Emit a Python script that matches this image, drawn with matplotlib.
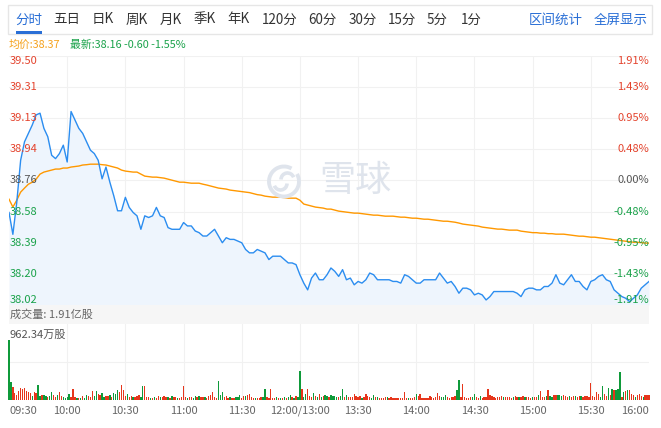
# 分时图 (intraday chart) redraw: price + average line on top, volume bars below
import numpy as np
import matplotlib.pyplot as plt
from matplotlib.patches import Rectangle, Arc

plt.rcParams['font.family'] = ['Noto Sans CJK SC', 'DejaVu Sans']

W, H = 661, 428

prev_close = 38.76

# price sampled every 2 minutes, 09:30 -> 12:00 | 13:00 -> 16:00 (330 trading minutes)
price = [
    38.57, 38.44, 38.63, 38.88, 38.99, 39.04, 39.09, 39.15, 39.16, 39.07,
    39.02, 38.91, 38.89, 38.92, 38.97, 38.87, 39.17, 39.12, 39.07, 39.04,
    38.99, 38.94, 38.92, 38.88, 38.77, 38.84, 38.75, 38.67, 38.58, 38.58,
    38.66, 38.60, 38.57, 38.55, 38.47, 38.55, 38.54, 38.55, 38.60, 38.55,
    38.54, 38.48, 38.47, 38.47, 38.47, 38.51, 38.49, 38.49, 38.46, 38.45,
    38.43, 38.43, 38.45, 38.47, 38.43, 38.39, 38.42, 38.41, 38.41, 38.40,
    38.39, 38.35, 38.33, 38.33, 38.35, 38.34, 38.33, 38.29, 38.31, 38.31,
    38.31, 38.29, 38.27, 38.27, 38.26, 38.20, 38.15, 38.11, 38.18, 38.21,
    38.17, 38.17, 38.20, 38.24, 38.22, 38.19, 38.23, 38.17, 38.18, 38.14,
    38.16, 38.15, 38.17, 38.21, 38.20, 38.17, 38.17, 38.17, 38.17, 38.16,
    38.16, 38.15, 38.20, 38.19, 38.17, 38.15, 38.15, 38.17, 38.17, 38.17,
    38.17, 38.21, 38.18, 38.15, 38.16, 38.13, 38.09, 38.12, 38.12, 38.11,
    38.08, 38.09, 38.08, 38.05, 38.07, 38.10, 38.10, 38.10, 38.10, 38.10,
    38.10, 38.09, 38.07, 38.11, 38.12, 38.12, 38.11, 38.11, 38.13, 38.13,
    38.15, 38.20, 38.15, 38.14, 38.17, 38.20, 38.16, 38.16, 38.13, 38.11,
    38.16, 38.17, 38.19, 38.20, 38.17, 38.16, 38.11, 38.09, 38.07, 38.06,
    38.04, 38.06, 38.08, 38.12, 38.14, 38.16,
]

avg_price = [
    38.649, 38.602, 38.643, 38.691, 38.715, 38.738, 38.750, 38.768, 38.798, 38.810,
    38.816, 38.822, 38.828, 38.828, 38.834, 38.834, 38.840, 38.843, 38.846, 38.852,
    38.854, 38.857, 38.857, 38.857, 38.854, 38.852, 38.846, 38.840, 38.834, 38.822,
    38.816, 38.813, 38.810, 38.810, 38.798, 38.786, 38.783, 38.780, 38.780, 38.777,
    38.774, 38.768, 38.762, 38.756, 38.750, 38.750, 38.747, 38.744, 38.744, 38.744,
    38.738, 38.733, 38.727, 38.721, 38.715, 38.712, 38.709, 38.703, 38.700, 38.697,
    38.694, 38.691, 38.688, 38.682, 38.676, 38.673, 38.667, 38.664, 38.661, 38.661,
    38.661, 38.658, 38.655, 38.655, 38.655, 38.643, 38.620, 38.614, 38.608, 38.602,
    38.599, 38.596, 38.590, 38.590, 38.584, 38.578, 38.575, 38.572, 38.569, 38.566,
    38.566, 38.563, 38.560, 38.557, 38.554, 38.554, 38.551, 38.548, 38.548, 38.548,
    38.545, 38.542, 38.542, 38.539, 38.536, 38.536, 38.533, 38.530, 38.530, 38.527,
    38.524, 38.521, 38.518, 38.518, 38.515, 38.512, 38.507, 38.501, 38.498, 38.495,
    38.492, 38.489, 38.483, 38.480, 38.477, 38.474, 38.471, 38.471, 38.468, 38.465,
    38.465, 38.465, 38.459, 38.456, 38.453, 38.450, 38.450, 38.447, 38.447, 38.444,
    38.444, 38.441, 38.441, 38.441, 38.438, 38.435, 38.432, 38.429, 38.429, 38.426,
    38.423, 38.423, 38.420, 38.417, 38.414, 38.411, 38.408, 38.405, 38.402, 38.399,
    38.396, 38.393, 38.393, 38.391, 38.388, 38.388,
]

# volume per minute, in 万股; 'R' = up minute, 'G' = down minute
volume = [
    962, 283, 214, 107, 80, 150, 187, 176, 187, 150,
    133, 107, 64, 123, 117, 240, 64, 75, 75, 59,
    48, 59, 128, 75, 43, 80, 128, 59, 43, 37,
    43, 96, 48, 176, 43, 37, 32, 37, 59, 32,
    80, 59, 48, 144, 64, 144, 96, 75, 112, 48,
    64, 59, 80, 48, 112, 96, 160, 123, 240, 160,
    64, 96, 48, 59, 48, 43, 59, 80, 48, 225,
    225, 43, 48, 32, 37, 48, 32, 59, 48, 43,
    59, 43, 48, 37, 59, 43, 48, 37, 32, 43,
    225, 48, 37, 43, 48, 37, 59, 43, 59, 48,
    43, 48, 37, 64, 80, 128, 43, 32, 305, 75,
    128, 43, 59, 37, 43, 32, 37, 43, 48, 80,
    32, 59, 64, 75, 96, 48, 32, 37, 32, 37,
    43, 48, 176, 43, 32, 176, 37, 32, 43, 32,
    37, 32, 43, 37, 48, 80, 43, 37, 64, 48,
    465, 176, 48, 96, 176, 64, 43, 112, 64, 48,
    96, 48, 64, 80, 59, 43, 80, 64, 59, 48,
    43, 59, 176, 43, 75, 43, 48, 48, 96, 64,
    43, 59, 37, 48, 96, 64, 48, 32, 75, 43,
    48, 32, 37, 37, 48, 43, 37, 43, 37, 37,
    37, 37, 37, 37, 128, 37, 37, 37, 37, 43,
    96, 59, 96, 32, 37, 37, 32, 59, 48, 37,
    43, 112, 64, 48, 43, 80, 43, 37, 48, 48,
    64, 160, 320, 43, 256, 43, 37, 37, 48, 48,
    96, 48, 37, 64, 37, 48, 43, 176, 80, 64,
    48, 37, 43, 48, 59, 43, 48, 43, 48, 37,
    48, 59, 48, 43, 43, 64, 48, 48, 43, 37,
    48, 48, 48, 80, 144, 48, 43, 64, 160, 59,
    43, 75, 80, 80, 80, 64, 75, 59, 48, 64,
    48, 64, 59, 48, 64, 64, 48, 59, 64, 48,
    272, 64, 48, 128, 96, 48, 224, 96, 59, 192,
    80, 176, 160, 160, 176, 450, 48, 128, 144, 160,
    160, 96, 75, 48, 75, 96, 64, 48, 80, 80, 80,
]
vol_side = (
    "GGRRRRRRRR" "RRGRRGGRGG" "RGGRRGRRGG" "GGRRRGRGRG" "GRRRGGRRGG"
    "RRGRGGGRRR" "RGRRGRRRGG" "RRRGRGRRGR" "RRGRGRRGRR" "RRGRRGGRGR"
    "RGRRRRRRGG" "GRRRGRRGGG" "RRGRRRRGRR" "RGGRRRRRGR" "GRGRGGRGRG"
    "GRGGRRRGRG" "RGRGGRGGGG" "RGGRGRRRRR" "RRGRRRRGGR" "GRRRRGRRRR"
    "RRRRRRGRRR" "GRRRRRRRRR" "RRRGGGRRRR" "RGGRRRRRRG" "GRRGRRRRRR"
    "RRRRRGRRRR" "GRRGRRGRRR" "GRRGRRRGRG" "GRRGGGRRRG" "RRGRRGRRRR"
    "RRRRRGGRRG" "RGRGGGRGRG" "RRRGRRRGRRR"
)

price_levels = ['39.50', '39.31', '39.13', '38.94', '38.76', '38.58', '38.39', '38.20', '38.02']
pct_levels = ['1.91%', '1.43%', '0.95%', '0.48%', '0.00%', '-0.48%', '-0.95%', '-1.43%', '-1.91%']
time_labels = ['09:30', '10:00', '10:30', '11:00', '11:30', '12:00/13:00',
               '13:30', '14:00', '14:30', '15:00', '15:30', '16:00']
tabs = ['分时', '五日', '日K', '周K', '月K', '季K', '年K', '120分', '60分', '30分', '15分', '5分', '1分']
tab_x = [15.5, 53, 92, 126, 160, 193.5, 227, 262, 308, 348.5, 388, 427, 461]

RED, GREEN, GRAY = '#e4432d', '#1aa24a', '#555555'
BLUE = '#2a6fd6'


def fx(px):
    return px / W


def fy(py):
    return 1 - py / H


fig = plt.figure(figsize=(W / 100, H / 100), dpi=100)
fig.patch.set_facecolor('white')

# ---- tab bar ----
fig.patches.append(Rectangle((fx(8), fy(34)), fx(652) - fx(8), (34 - 5) / H,
                             transform=fig.transFigure, fill=False,
                             ec='#e6e6e6', lw=1))
for name, x in zip(tabs, tab_x):
    fig.text(fx(x), fy(19.5), name, fontsize=9.7, va='center', ha='left',
             color=BLUE if name == '分时' else '#333333')
fig.patches.append(Rectangle((fx(15.5), fy(34)), (42.5 - 15.5) / W, 2.5 / H,
                             transform=fig.transFigure, color=BLUE, lw=0))
fig.text(fx(529), fy(19.5), '区间统计', fontsize=9.7, va='center', color=BLUE)
fig.text(fx(593.5), fy(19.5), '全屏显示', fontsize=9.7, va='center', color=BLUE)

fig.text(fx(9), fy(45), '均价:38.37', fontsize=7.8, va='center', color='#f5a11c')
fig.text(fx(70), fy(45), '最新:38.16 -0.60 -1.55%', fontsize=7.8, va='center', color=GREEN)

# ---- price panel ----
t = np.arange(0, 331, 2)
lo, hi = 38.02, 39.50
ax = fig.add_axes([fx(9), fy(305), (649 - 9) / W, (305 - 56) / H])
ax.set_xlim(0, 330)
ax.set_ylim(lo, hi)
ax.axis('off')

levels = np.linspace(hi, lo, len(price_levels))
for lvl in levels:
    ax.axhline(lvl, color='#f1f1f1', lw=0.8, zorder=0)
for m in range(30, 330, 30):
    ax.axvline(m, color='#f1f1f1', lw=0.8, zorder=0)

ax.fill_between(t, price, lo, color='#eef5fd', lw=0, zorder=1)

# watermark
ax.text(0.484, 0.5, '雪球', transform=ax.transAxes, fontsize=26, color='#dfe4ec',
        va='center', ha='left', zorder=2)
cx, cy = 2.84, (H - 181.5) / 100
fig.patches.append(Arc((cx, cy), 0.30, 0.30, theta1=60, theta2=390,
                       transform=fig.dpi_scale_trans, color='#dfe4ec', lw=2.8))
fig.patches.append(Arc((cx - 0.035, cy - 0.02), 0.13, 0.13, theta1=200, theta2=360,
                       transform=fig.dpi_scale_trans, color='#dfe4ec', lw=2.6))
fig.patches.append(Arc((cx + 0.035, cy + 0.02), 0.13, 0.13, theta1=20, theta2=180,
                       transform=fig.dpi_scale_trans, color='#dfe4ec', lw=2.6))

ax.plot(t, avg_price, color='#ff9800', lw=1.0, zorder=3)
ax.plot(t, price, color='#2b8df0', lw=1.0, zorder=4)

ytr = ax.get_yaxis_transform()
n = len(levels)
for i, (lvl, lab, pct) in enumerate(zip(levels, price_levels, pct_levels)):
    col = RED if i < n // 2 else (GRAY if i == n // 2 else GREEN)
    va = 'top' if i == 0 else ('bottom' if i == n - 1 else 'center')
    ax.text(0.001, lvl, lab, transform=ytr, fontsize=8, color=col, ha='left', va=va, zorder=5)
    ax.text(1.0, lvl, pct, transform=ytr, fontsize=8, color=col, ha='right', va=va, zorder=5)

# ---- volume header band ----
fig.patches.append(Rectangle((fx(9), fy(324)), 640 / W, 19 / H,
                             transform=fig.transFigure, color='#f6f6f6', lw=0))
fig.text(fx(9.5), fy(314.5), '成交量: 1.91亿股', fontsize=8, va='center', color='#666666')

# ---- volume panel ----
vax = fig.add_axes([fx(9), fy(400), 640 / W, 76 / H])
vax.set_xlim(0, 330)
vax.set_ylim(0, 1220)
vax.axis('off')
vax.axhline(610, color='#f1f1f1', lw=0.8, zorder=0)
for m in range(30, 330, 30):
    vax.axvline(m, color='#f1f1f1', lw=0.8, zorder=0)
minutes = np.arange(len(volume))
colors = ['#e6361c' if s == 'R' else '#0f9a3a' for s in vol_side]
vax.bar(minutes, volume, width=0.7, color=colors, lw=0, clip_on=False, zorder=2)
fig.text(fx(9), fy(335), '962.34万股', fontsize=8, va='center', color='#555555')

xtr = vax.get_xaxis_transform()
for i, lab in enumerate(time_labels):
    m = i * 30
    ha = 'left' if i == 0 else ('right' if i == len(time_labels) - 1 else 'center')
    vax.text(m, -(411 - 400) / 76, lab, transform=xtr, fontsize=8, color='#666666',
             ha=ha, va='center')

fig.savefig('out.png', dpi=100)
